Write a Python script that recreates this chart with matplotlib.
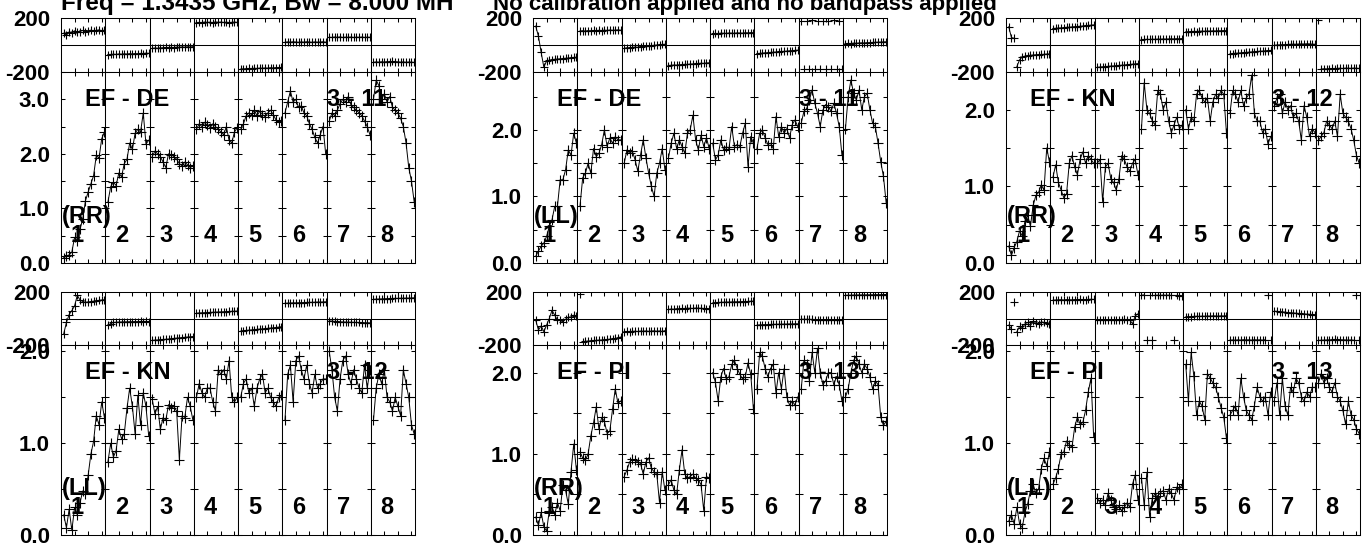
import numpy as np
import matplotlib
matplotlib.use("Agg")
import matplotlib.pyplot as plt

plt.rcParams["font.family"] = ["Liberation Sans", "DejaVu Sans"]
plt.rcParams["font.weight"] = "bold"

W, H = 1366, 550

title_left = "Freq = 1.3435 GHz, Bw = 8.000 MH"
title_right = "No calibration applied and no bandpass applied"

channels = list(range(1, 17))
if_labels = ["1", "2", "3", "4", "5", "6", "7", "8"]

baselines = ["EF - DE", "EF - DE", "EF - KN", "EF - KN", "EF - PI", "EF - PI"]
stokes = ["(RR)", "(LL)", "(RR)", "(LL)", "(RR)", "(LL)"]
scan_ids = ["3 - 11", "3 - 11", "3 - 12", "3 - 12", "3 - 13", "3 - 13"]

# amplitude, one row of 16 channels per IF
amp_de_rr = [
    [0.10, 0.12, 0.15, 0.20, 0.47, 0.40, 0.62, 0.80, 1.14, 1.30, 1.45, 1.60, 1.97, 1.92, 2.28, 2.40],
    [1.12, 1.40, 1.48, 1.42, 1.65, 1.58, 1.82, 1.90, 2.20, 2.08, 2.38, 2.45, 2.40, 2.75, 2.18, 2.25],
    [1.95, 2.05, 2.00, 1.95, 1.85, 1.75, 2.00, 1.98, 1.95, 1.90, 1.82, 1.78, 1.85, 1.80, 1.75, 1.78],
    [2.45, 2.55, 2.50, 2.58, 2.52, 2.48, 2.55, 2.50, 2.45, 2.40, 2.35, 2.50, 2.25, 2.20, 2.40, 2.48],
    [2.45, 2.55, 2.70, 2.75, 2.72, 2.80, 2.70, 2.78, 2.72, 2.68, 2.75, 2.80, 2.72, 2.62, 2.58, 2.60],
    [2.75, 2.95, 3.15, 2.95, 3.00, 2.85, 2.88, 2.75, 2.70, 2.55, 2.45, 2.30, 2.20, 2.35, 2.50, 2.00],
    [2.60, 2.75, 2.70, 2.80, 2.92, 3.00, 2.95, 3.05, 2.90, 2.85, 2.80, 2.75, 2.70, 2.60, 2.50, 2.35],
    [3.00, 3.35, 3.25, 3.00, 3.10, 2.95, 3.05, 2.85, 2.80, 2.75, 2.65, 2.50, 2.20, 1.75, 1.50, 1.12],
]
amp_de_ll = [
    [0.10, 0.18, 0.25, 0.30, 0.40, 0.55, 0.65, 0.85, 0.85, 1.25, 1.25, 1.40, 1.70, 1.62, 1.95, 1.80],
    [0.85, 1.28, 1.35, 1.50, 1.35, 1.72, 1.60, 1.65, 1.78, 2.00, 1.75, 1.88, 1.80, 1.90, 1.85, 1.85],
    [1.50, 1.70, 1.65, 1.68, 1.55, 1.38, 1.62, 1.85, 1.58, 1.35, 1.15, 1.00, 1.35, 1.50, 1.72, 1.40],
    [1.58, 1.80, 1.95, 1.72, 1.85, 1.75, 1.65, 1.95, 2.00, 2.22, 1.85, 1.70, 1.92, 1.75, 1.88, 1.72],
    [1.80, 1.55, 1.62, 1.85, 1.70, 1.75, 1.72, 2.05, 1.75, 1.78, 1.75, 1.95, 2.10, 1.45, 1.90, 1.80],
    [1.72, 1.95, 2.00, 1.88, 1.78, 1.80, 1.72, 2.20, 1.90, 2.05, 1.95, 2.02, 1.88, 2.08, 2.15, 2.05],
    [2.10, 2.28, 2.32, 2.45, 2.60, 2.40, 2.25, 2.05, 2.30, 2.38, 2.35, 2.28, 2.40, 2.25, 2.05, 1.62],
    [2.02, 2.50, 2.75, 2.55, 2.45, 2.60, 2.30, 2.50, 2.55, 2.30, 2.10, 2.05, 1.80, 1.52, 1.30, 0.90],
]
amp_kn_rr = [
    [0.22, 0.10, 0.20, 0.28, 0.42, 0.35, 0.55, 0.62, 0.48, 0.75, 0.88, 0.92, 1.02, 0.95, 1.50, 1.32],
    [1.12, 1.28, 1.05, 0.95, 0.85, 0.90, 1.30, 1.40, 1.25, 1.15, 1.35, 1.45, 1.30, 1.40, 1.35, 1.30],
    [1.30, 1.35, 0.80, 1.25, 1.30, 1.10, 1.05, 0.95, 1.10, 1.40, 1.35, 1.25, 1.20, 1.30, 1.35, 1.15],
    [1.75, 2.35, 2.00, 1.95, 1.85, 1.80, 2.25, 2.20, 2.00, 2.10, 1.85, 1.70, 1.80, 1.90, 1.75, 1.80],
    [2.00, 1.75, 1.90, 1.85, 2.20, 2.25, 2.15, 2.10, 2.15, 1.85, 2.10, 2.20, 2.15, 2.25, 2.20, 1.70],
    [1.95, 2.25, 2.20, 2.10, 2.25, 2.05, 2.15, 2.20, 2.45, 1.95, 1.85, 1.85, 1.70, 1.75, 1.55, 1.65],
    [2.05, 2.15, 2.20, 1.95, 2.10, 2.00, 2.05, 1.90, 1.95, 1.85, 1.60, 2.05, 1.90, 1.65, 1.75, 1.70],
    [1.60, 1.65, 1.70, 1.85, 1.80, 1.75, 1.85, 1.65, 2.20, 1.95, 1.90, 1.85, 1.75, 1.60, 1.40, 1.30],
]
amp_kn_ll = [
    [0.22, 0.08, 0.28, 0.05, 0.30, 0.22, 0.35, 0.48, 0.45, 0.65, 0.88, 1.02, 1.30, 1.20, 1.45, 1.28],
    [0.80, 1.00, 0.85, 0.92, 1.15, 1.05, 1.10, 1.38, 1.60, 1.40, 1.10, 1.52, 1.20, 1.55, 1.40, 1.08],
    [1.48, 1.32, 1.40, 1.15, 1.28, 1.25, 1.42, 1.38, 1.40, 1.35, 0.82, 1.30, 1.28, 1.50, 1.40, 1.25],
    [1.50, 1.65, 1.55, 1.50, 1.60, 1.60, 1.45, 1.35, 1.80, 1.75, 1.80, 1.70, 1.90, 1.50, 1.45, 1.50],
    [1.50, 1.65, 1.70, 1.55, 1.60, 1.40, 1.60, 1.70, 1.75, 1.55, 1.60, 1.50, 1.45, 1.40, 1.50, 1.52],
    [1.25, 1.75, 1.85, 1.45, 1.90, 1.95, 1.80, 1.70, 1.85, 1.65, 1.55, 1.75, 1.60, 1.65, 1.70, 1.70],
    [2.00, 1.80, 1.50, 1.35, 1.70, 1.90, 1.95, 1.75, 1.65, 1.80, 1.70, 1.60, 1.55, 1.85, 1.60, 1.80],
    [1.25, 1.60, 1.75, 1.65, 1.80, 1.50, 1.45, 1.35, 1.50, 1.40, 1.30, 1.80, 1.65, 1.50, 1.20, 1.10],
]
amp_pi_rr = [
    [0.22, 0.12, 0.28, 0.10, 0.05, 0.30, 0.35, 0.25, 0.40, 0.30, 0.62, 0.55, 0.38, 0.78, 1.12, 0.80],
    [1.02, 0.95, 0.92, 1.00, 1.22, 1.38, 1.58, 1.30, 1.45, 1.40, 1.25, 1.28, 1.55, 1.80, 1.62, 1.65],
    [0.72, 0.80, 0.90, 0.93, 0.92, 0.90, 0.88, 0.75, 0.90, 0.95, 0.82, 0.78, 0.75, 0.40, 0.78, 0.55],
    [0.62, 0.68, 0.55, 0.50, 0.80, 1.05, 0.75, 0.70, 0.72, 0.75, 0.70, 0.68, 0.62, 0.30, 0.72, 0.70],
    [2.00, 1.88, 1.65, 1.95, 2.05, 1.92, 1.95, 2.10, 2.15, 2.05, 1.98, 1.92, 1.95, 2.12, 1.98, 1.55],
    [1.80, 2.25, 2.20, 2.05, 1.95, 2.05, 2.10, 1.75, 2.00, 1.80, 2.05, 1.70, 1.60, 1.65, 1.60, 1.70],
    [1.80, 2.15, 2.10, 1.90, 2.25, 2.00, 2.30, 2.00, 1.85, 1.90, 2.00, 2.00, 1.85, 1.95, 1.85, 1.65],
    [1.70, 1.80, 2.00, 2.15, 2.20, 2.10, 2.00, 2.10, 2.05, 1.95, 1.80, 1.90, 1.85, 1.45, 1.35, 1.40],
]
amp_pi_ll = [
    [0.15, 0.22, 0.12, 0.30, 0.12, 0.08, 0.25, 0.34, 0.48, 0.55, 0.45, 0.50, 0.72, 0.83, 0.75, 0.90],
    [0.55, 0.62, 0.72, 0.88, 0.90, 1.02, 0.98, 0.95, 1.17, 1.28, 1.20, 1.22, 1.35, 1.55, 1.70, 1.06],
    [0.40, 0.35, 0.38, 0.32, 0.45, 0.38, 0.30, 0.28, 0.32, 0.26, 0.30, 0.35, 0.30, 0.55, 0.65, 0.38],
    [0.62, 0.32, 0.68, 0.20, 0.40, 0.45, 0.42, 0.46, 0.48, 0.38, 0.50, 0.45, 0.38, 0.52, 0.50, 0.55],
    [1.85, 1.45, 1.98, 1.72, 1.30, 1.45, 1.40, 1.25, 1.75, 1.70, 1.65, 1.60, 1.50, 1.38, 1.28, 1.05],
    [1.30, 1.35, 1.40, 1.30, 1.70, 1.50, 1.35, 1.30, 1.25, 1.40, 1.60, 1.50, 1.45, 1.50, 1.30, 1.55],
    [1.45, 1.65, 1.30, 1.70, 1.40, 1.30, 1.60, 1.55, 1.70, 1.65, 1.50, 1.45, 1.55, 1.50, 1.60, 1.60],
    [1.65, 1.75, 1.65, 1.70, 1.60, 1.55, 1.65, 1.50, 1.45, 1.35, 1.20, 1.45, 1.30, 1.25, 1.15, 1.10],
]

# phase in degrees, same layout
pha_de_rr = [
    [88, 72, 98, 92, 105, 95, 100, 108, 98, 104, 110, 102, 108, 112, 105, 110],
    [-72, -70, -68, -70, -66, -68, -65, -67, -64, -66, -63, -65, -62, -64, -60, -62],
    [-25, -22, -24, -20, -22, -18, -20, -17, -19, -15, -17, -14, -16, -13, -15, -12],
    [165, 168, 166, 170, 167, 169, 166, 171, 168, 170, 167, 169, 166, 168, 170, 167],
    [-178, -176, -177, -174, -175, -172, -174, -171, -172, -170, -171, -168, -170, -167, -168, -166],
    [20, 23, 21, 24, 22, 20, 23, 21, 24, 22, 20, 23, 21, 22, 24, 21],
    [58, 56, 59, 57, 60, 56, 58, 57, 59, 56, 58, 57, 59, 56, 58, 57],
    [-128, -125, -127, -124, -126, -123, -125, -122, -126, -124, -127, -125, -128, -126, -127, -129],
]
pha_de_ll = [
    [140, 65, -55, -165, -118, -112, -108, -106, -104, -102, -100, -98, -96, -94, -92, -90],
    [104, 106, 103, 107, 105, 108, 106, 109, 107, 110, 108, 111, 109, 110, 112, 110],
    [-25, -20, -22, -18, -15, -17, -12, -10, -8, -6, -4, -2, 0, 2, 4, 5],
    [-152, -150, -148, -149, -146, -145, -143, -144, -141, -140, -138, -137, -135, -136, -133, -132],
    [84, 86, 85, 88, 87, 86, 89, 88, 87, 90, 89, 88, 91, 90, 92, 91],
    [-64, -62, -60, -58, -57, -55, -53, -52, -50, -48, -47, -45, -43, -42, -40, -38],
    [178, -176, 180, -178, 182, -175, 179, -177, 181, -176, 180, -178, 182, -175, 179, -176],
    [10, 12, 11, 14, 13, 15, 16, 15, 18, 17, 19, 20, 21, 22, 23, 24],
]
pha_kn_rr = [
    [135, 55, 50, -160, -110, -88, -82, -78, -76, -74, -72, -71, -70, -69, -67, -66],
    [122, 124, 126, 127, 129, 131, 132, 134, 136, 137, 139, 141, 143, 145, 147, 149],
    [-165, -163, -161, -160, -158, -156, -155, -153, -151, -150, -148, -146, -144, -142, -140, -138],
    [40, 41, 42, 41, 43, 42, 44, 43, 45, 44, 45, 46, 45, 47, 46, 48],
    [98, 99, 100, 101, 100, 102, 103, 102, 104, 103, 105, 104, 106, 105, 107, 106],
    [-65, -63, -61, -60, -58, -56, -55, -53, -51, -50, -48, -46, -45, -43, -41, -40],
    [-2, 0, 1, 3, 2, 4, 5, 6, 5, 7, 8, 7, 9, 8, 6, 5],
    [188, -178, -176, -177, -175, -174, -176, -173, -172, -174, -171, -172, -173, -171, -172, -174],
]
pha_kn_ll = [
    [-115, -30, 30, 60, 95, 175, 140, 128, 122, 125, 128, 131, 134, 137, 140, 142],
    [-52, -38, -30, -28, -27, -26, -25, -25, -24, -24, -23, -24, -22, -23, -22, -24],
    [-165, -163, -162, -160, -158, -157, -155, -153, -150, -148, -146, -144, -142, -140, -138, -136],
    [40, 42, 43, 44, 45, 46, 47, 48, 49, 50, 51, 52, 53, 54, 55, 56],
    [-95, -92, -90, -88, -86, -84, -82, -80, -78, -76, -74, -72, -70, -68, -65, -62],
    [115, 116, 117, 118, 118, 119, 120, 120, 121, 122, 122, 123, 124, 124, 125, 126],
    [-18, -20, -22, -24, -25, -26, -27, -28, -28, -29, -30, -30, -31, -32, -32, -33],
    [145, 146, 147, 148, 149, 150, 150, 151, 152, 152, 153, 153, 154, 154, 155, 156],
]
pha_pi_rr = [
    [-12, -87, -55, -100, -50, 0, 62, 25, -12, -15, -25, -5, 10, 12, 25, 20],
    [182, -175, -172, -170, -168, -166, -165, -163, -162, -160, -158, -156, -154, -150, -145, -140],
    [-100, -98, -99, -97, -96, -98, -95, -96, -94, -97, -95, -93, -96, -94, -98, -92],
    [68, 72, 70, 74, 73, 76, 75, 78, 77, 76, 79, 78, 77, 76, 75, 74],
    [118, 120, 121, 122, 123, 124, 124, 125, 126, 126, 127, 128, 128, 129, 130, 131],
    [-50, -48, -47, -46, -46, -45, -44, -44, -43, -43, -42, -42, -41, -41, -40, -40],
    [-5, -6, -6, -7, -7, -8, -8, -8, -9, -9, -9, -10, -10, -10, -11, -11],
    [175, 176, 176, 177, 177, 178, 178, 178, 179, 179, 179, 180, 180, 180, 181, 181],
]
pha_pi_ll = [
    [-50, -80, 125, -100, -60, -75, -40, -30, -55, -20, -35, -45, -25, -30, -35, -40],
    [138, 140, 141, 142, 140, 143, 142, 141, 143, 142, 144, 143, 142, 144, 145, 144],
    [-15, -12, -13, -10, -12, -9, -11, -10, -8, -10, -7, -9, -12, -40, 20, 35],
    [176, 178, -162, 177, -164, 175, 176, 174, 177, 175, 176, 174, -160, 175, 173, 172],
    [12, 15, 14, 16, 17, 16, 18, 17, 19, 18, 20, 19, 18, 20, 19, 21],
    [-163, -162, -164, -161, -163, -160, -162, -161, -163, -160, -162, -161, -163, -160, 175, -165],
    [55, 54, 52, 50, 48, 45, 44, 42, 40, 38, 36, 35, 33, 32, 30, 29],
    [-165, -164, -163, -162, -161, -160, -158, -159, -160, -161, -162, -163, -162, -164, 176, -165],
]

amp_data = [amp_de_rr, amp_de_ll, amp_kn_rr, amp_kn_ll, amp_pi_rr, amp_pi_ll]
pha_data = [pha_de_rr, pha_de_ll, pha_kn_rr, pha_kn_ll, pha_pi_rr, pha_pi_ll]

# layout in pixels
col_left = [61, 533, 1006]
col_width = 354
rows = [(18, 72, 263), (292, 345, 535)]  # phase top, amp top, amp bottom
amp_top = [3.5, 2.87, 2.49, 2.07, 2.34, 2.06]

LW = 0.75
TICK = 3.0
TICK_FS = 16
LABEL_FS = 17


def rect(x0, y0, x1, y1):
    return [x0 / W, 1 - y1 / H, (x1 - x0) / W, (y1 - y0) / H]


def put_text(fig, x, y, s, size=LABEL_FS):
    fig.text(x / W, 1 - y / H, s, fontsize=size, fontweight="bold",
             ha="left", va="baseline", color="black")


def style_box(ax):
    for sp in ax.spines.values():
        sp.set_linewidth(LW)
        sp.set_color("black")
    ax.set_xlim(0, 16.3)
    ax.set_xticks([5, 10, 15])
    ax.set_xticklabels([])
    ax.tick_params(axis="both", direction="in", length=TICK, width=LW,
                   top=True, bottom=True, left=True, right=True,
                   labelsize=TICK_FS, pad=6)


def split_wraps(values):
    # break the line where the phase wraps round +-180
    xs, ys = [], []
    for i, v in enumerate(values):
        if i > 0 and abs(v - values[i - 1]) > 180:
            xs.append(np.nan)
            ys.append(np.nan)
        xs.append(channels[i])
        ys.append(v)
    return xs, ys


def draw_panel(fig, k):
    left = col_left[k % 3]
    ph_top, sep, bot = rows[k // 3]
    if_w = col_width / 8
    for j in range(8):
        x0 = left + j * if_w
        x1 = x0 + if_w

        # phase box
        axp = fig.add_axes(rect(x0, ph_top, x1, sep))
        style_box(axp)
        axp.set_ylim(-200, 200)
        axp.axhline(0, color="black", lw=LW)
        if j == 0:
            axp.set_yticks([-200, 200])
            axp.set_yticklabels(["-200", "200"], fontweight="bold")
            axp.tick_params(axis="y", length=0, pad=8)
        else:
            axp.set_yticks([])
        xs, ys = split_wraps(pha_data[k][j])
        axp.plot(xs, ys, color="black", lw=0.7, marker="+", ms=6, mew=0.8)

        # amplitude box
        axa = fig.add_axes(rect(x0, sep, x1, bot))
        style_box(axa)
        axa.set_ylim(0, amp_top[k])
        ticks = np.arange(0, amp_top[k] + 1e-6, 0.5)
        axa.set_yticks(ticks)
        if j == 0:
            axa.set_yticklabels(["%.1f" % t if t % 1 == 0 else "" for t in ticks],
                                fontweight="bold")
            axa.tick_params(axis="y", pad=8)
        else:
            axa.set_yticklabels([])
        axa.plot(channels, amp_data[k][j], color="black", lw=0.7,
                 marker="+", ms=7, mew=0.8)

        put_text(fig, x0 + 10, bot - 21, if_labels[j])

    put_text(fig, left + 24, sep + 34, baselines[k])
    put_text(fig, left + 266, sep + 34, scan_ids[k])
    put_text(fig, left + 1, bot - 40, stokes[k])


def main():
    fig = plt.figure(figsize=(W / 100, H / 100), dpi=100)
    for k in range(6):
        draw_panel(fig, k)
    put_text(fig, 61, 10, title_left, size=17.5)
    put_text(fig, 493, 10, title_right, size=16)
    fig.savefig("out.png", dpi=100, facecolor="white")


if __name__ == "__main__":
    main()
